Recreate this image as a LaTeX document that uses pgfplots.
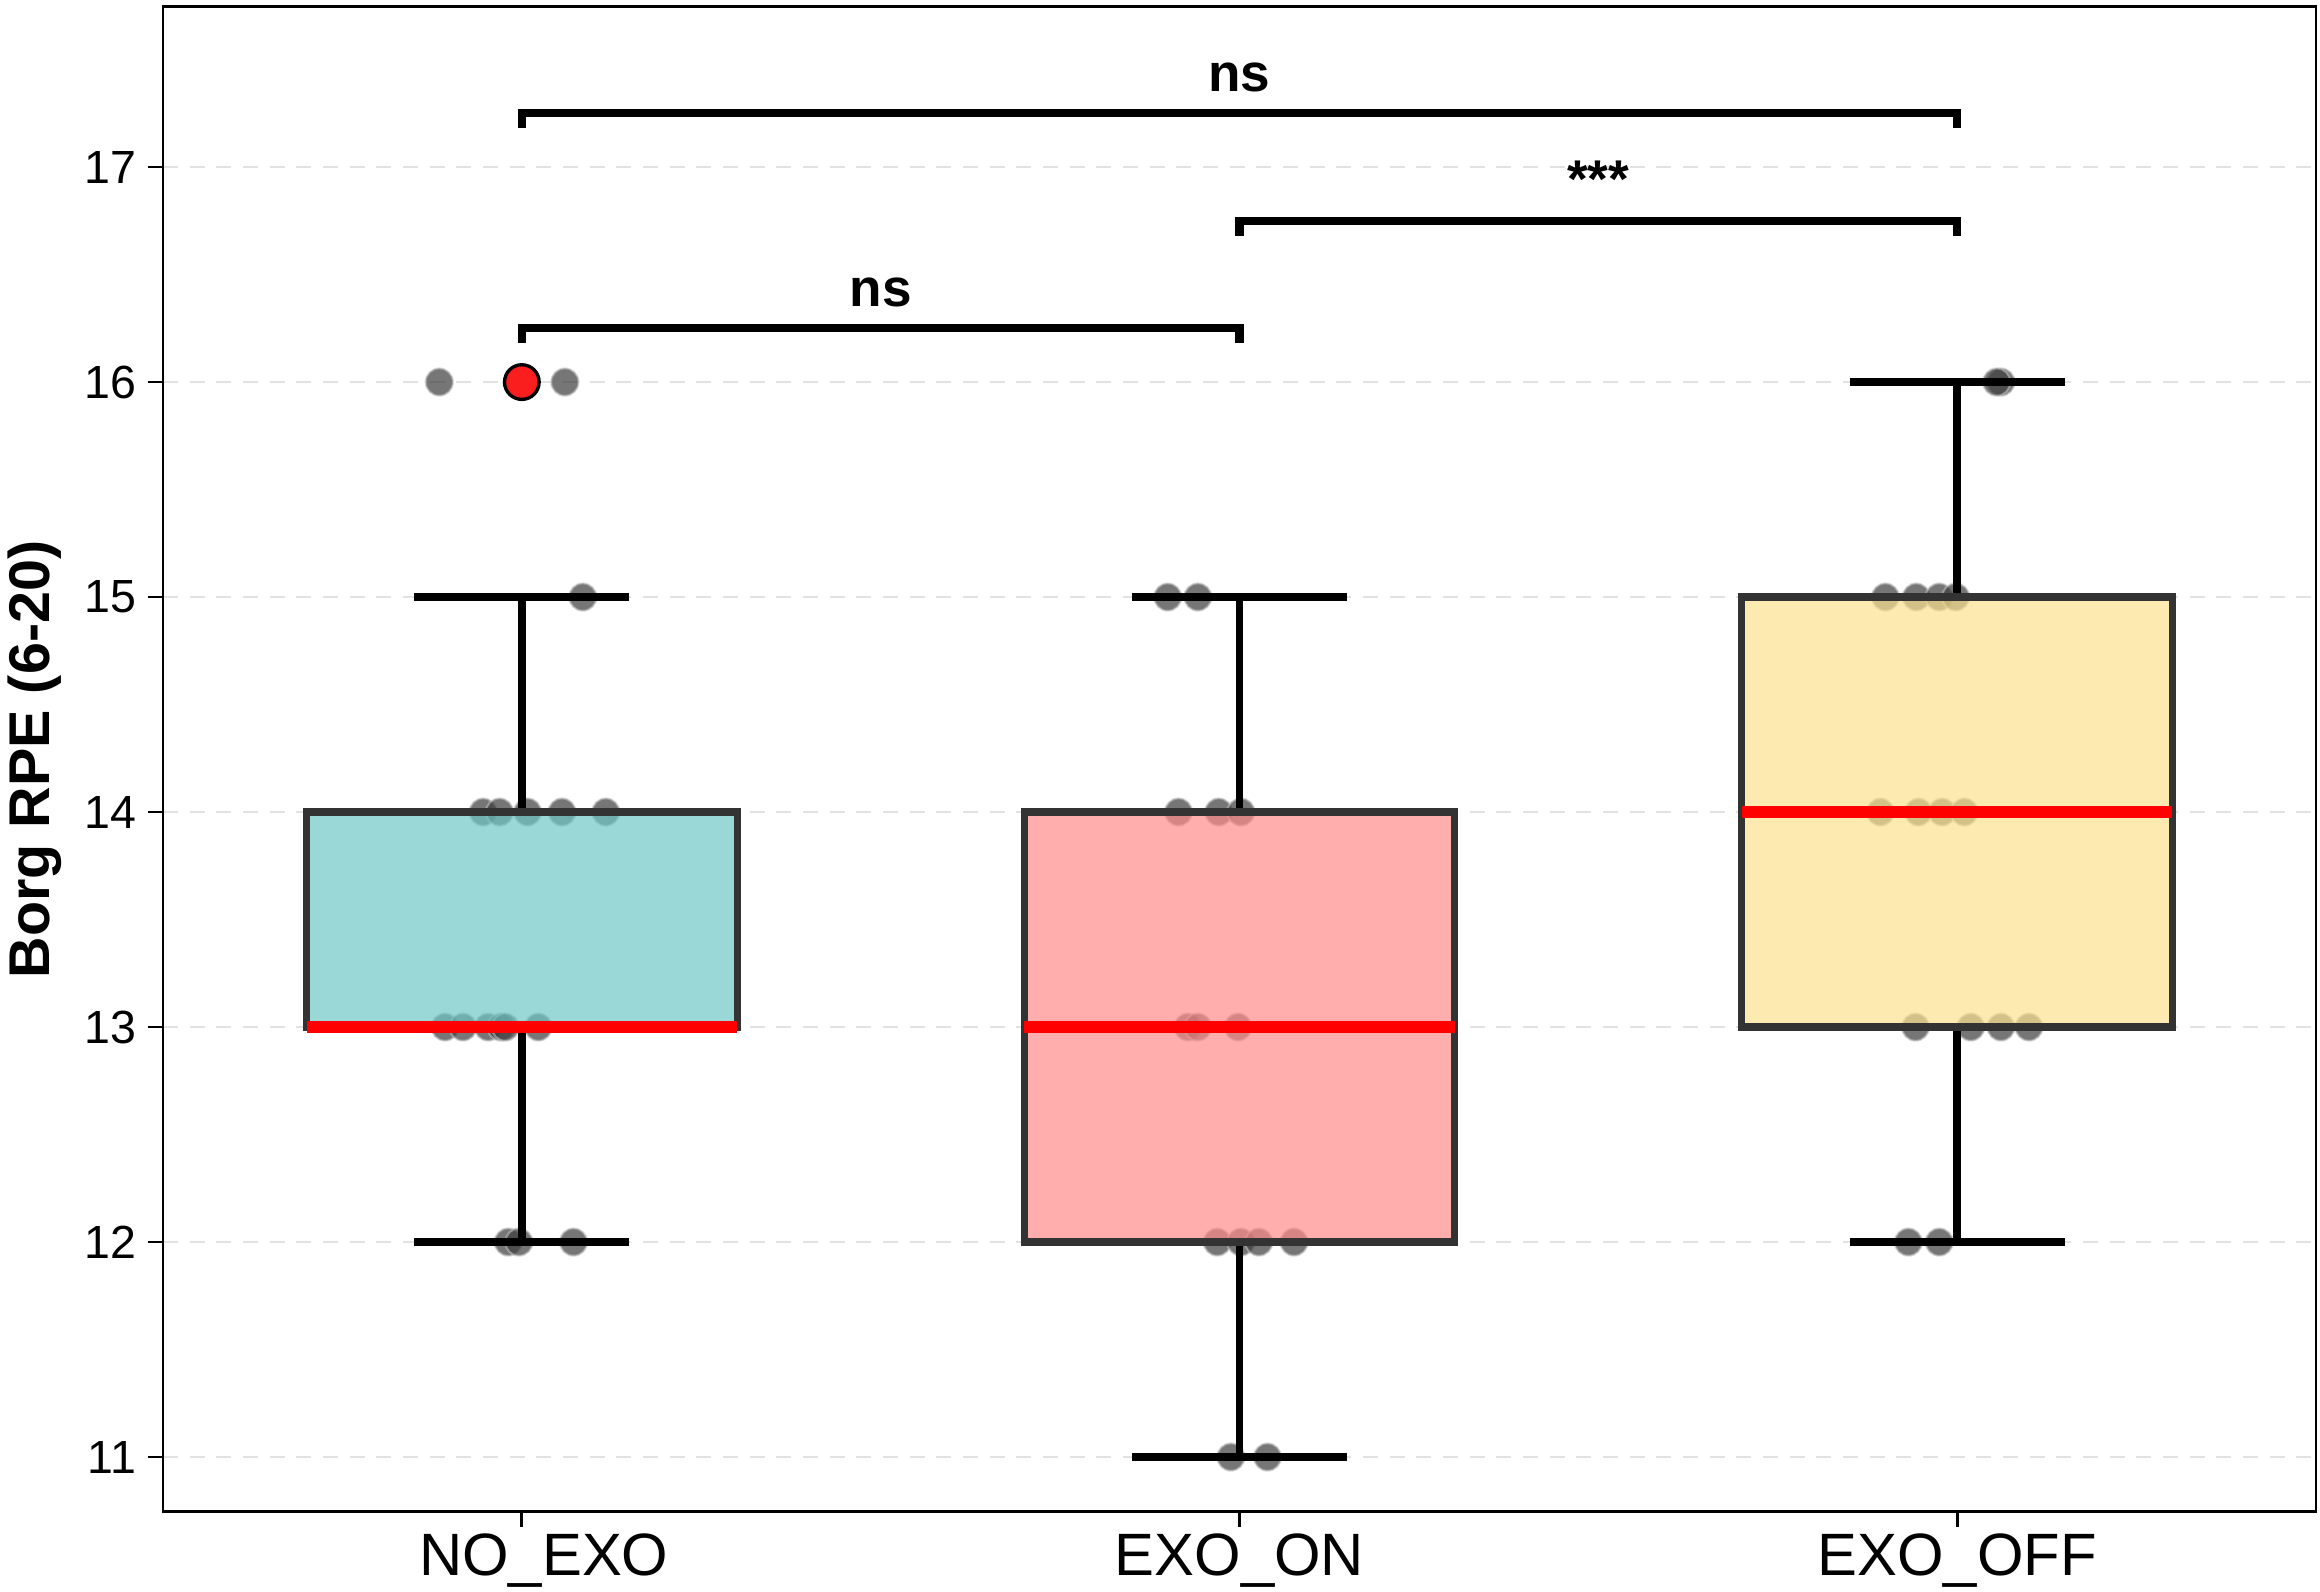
\documentclass[border=0pt]{standalone}
\usepackage{fontspec}
\setmainfont{Liberation Sans}
\usepackage{pgfplots}
\pgfplotsset{compat=1.18}
\usepgfplotslibrary{statistics}

\definecolor{tealbox}{RGB}{111,198,198}
\definecolor{pinkbox}{RGB}{255,138,138}
\definecolor{yellowbox}{RGB}{252,225,142}
\definecolor{edgegray}{RGB}{51,51,51}
\definecolor{gridgray}{RGB}{226,226,226}
\definecolor{dotgray}{RGB}{60,60,60}
\definecolor{outred}{RGB}{250,30,30}

\begin{document}
\begin{tikzpicture}
\begin{axis}[
  scale only axis, width=645.9bp, height=451.5bp,
  xmin=-0.5, xmax=2.5, ymin=10.745, ymax=17.745,
  axis line style={line width=0.85bp},
  xtick={0,1,2}, xticklabels={\hspace{13.2bp}NO\_EXO,EXO\_ON\hspace{7.2bp},EXO\_OFF},
  ytick={11,12,13,14,15,16,17},
  xtick pos=bottom, ytick pos=left,
  tick align=outside, major tick length=4.5bp,
  tick style={black, line width=0.85bp},
  ymajorgrids, grid style={gridgray, line width=0.6bp, dash pattern=on 4.5bp off 3.5bp},
  /pgf/number format/assume math mode=true,
  yticklabel style={font=\fontsize{14}{16}\selectfont},
  xticklabel style={font=\fontsize{18}{21}\selectfont, yshift=1.5bp},
  ylabel={Borg RPE (6-20)},
  ylabel style={font=\bfseries\fontsize{17.3}{20}\selectfont, at={(axis description cs:-0.0595,0.5)}, anchor=center},
  boxplot/draw direction=y,
  clip=false, clip marker paths=true,
]
% jittered individual points (drawn under the boxes)
\addplot[only marks, mark=*, mark size=4.1bp,
  mark options={fill=dotgray, fill opacity=0.7, draw=white!75!black, draw opacity=0.6, line width=0.6bp}]
  coordinates {
  (-0.115,16) (0.06,16)
  (0.085,15)
  (-0.054,14) (-0.031,14) (0.008,14) (0.056,14) (0.117,14)
  (-0.107,13) (-0.082,13) (-0.047,13) (-0.029,13) (-0.023,13) (0.023,13)
  (-0.019,12) (-0.004,12) (0.072,12)
  (0.90,15) (0.942,15)
  (0.915,14) (0.971,14) (1.002,14)
  (0.928,13) (0.942,13) (0.998,13)
  (0.969,12) (1.002,12) (1.027,12) (1.076,12)
  (0.988,11) (1.039,11)
  (2.061,16) (2.055,16)
  (1.90,15) (1.943,15) (1.975,15) (1.998,15)
  (1.893,14) (1.946,14) (1.979,14) (2.01,14)
  (1.942,13) (2.019,13) (2.061,13) (2.10,13)
  (1.932,12) (1.975,12)
  };

% boxes
\addplot[boxplot prepared={draw position=0, lower whisker=12, lower quartile=13, median=13, upper quartile=14, upper whisker=15, box extend=0.6, whisker extend=0.3},
  boxplot/every box/.style={draw=edgegray, line width=2.15bp, fill=tealbox, fill opacity=0.7},
  boxplot/every whisker/.style={black, line width=2.3bp},
  boxplot/every median/.style={red, line width=3.5bp}] coordinates {};
\addplot[boxplot prepared={draw position=1, lower whisker=11, lower quartile=12, median=13, upper quartile=14, upper whisker=15, box extend=0.6, whisker extend=0.3},
  boxplot/every box/.style={draw=edgegray, line width=2.15bp, fill=pinkbox, fill opacity=0.7},
  boxplot/every whisker/.style={black, line width=2.3bp},
  boxplot/every median/.style={red, line width=3.5bp}] coordinates {};
\addplot[boxplot prepared={draw position=2, lower whisker=12, lower quartile=13, median=14, upper quartile=15, upper whisker=16, box extend=0.6, whisker extend=0.3},
  boxplot/every box/.style={draw=edgegray, line width=2.15bp, fill=yellowbox, fill opacity=0.7},
  boxplot/every whisker/.style={black, line width=2.3bp},
  boxplot/every median/.style={red, line width=3.5bp}] coordinates {};

% outlier
\addplot[only marks, mark=*, mark size=5.2bp, mark options={fill=outred, draw=black, line width=1bp}]
  coordinates {(0,16)};

% significance brackets
\addplot[black, line width=2.5bp, line join=miter] coordinates {(0,16.18) (0,16.25) (1,16.25) (1,16.18)};
\addplot[black, line width=2.5bp, line join=miter] coordinates {(1,16.68) (1,16.75) (2,16.75) (2,16.68)};
\addplot[black, line width=2.5bp, line join=miter] coordinates {(0,17.18) (0,17.25) (2,17.25) (2,17.18)};
\node[anchor=base, font=\bfseries\fontsize{16}{19}\selectfont] at (axis cs:0.5,16.35) {ns};
\node[anchor=base, font=\bfseries\fontsize{16}{19}\selectfont] at (axis cs:1.5,16.86) {***};
\node[anchor=base, font=\bfseries\fontsize{16}{19}\selectfont] at (axis cs:1,17.35) {ns};
\end{axis}
\pgfresetboundingbox
\useasboundingbox (-48.9bp,-24bp) rectangle (647.1bp,453.57bp);
\end{tikzpicture}
\end{document}
